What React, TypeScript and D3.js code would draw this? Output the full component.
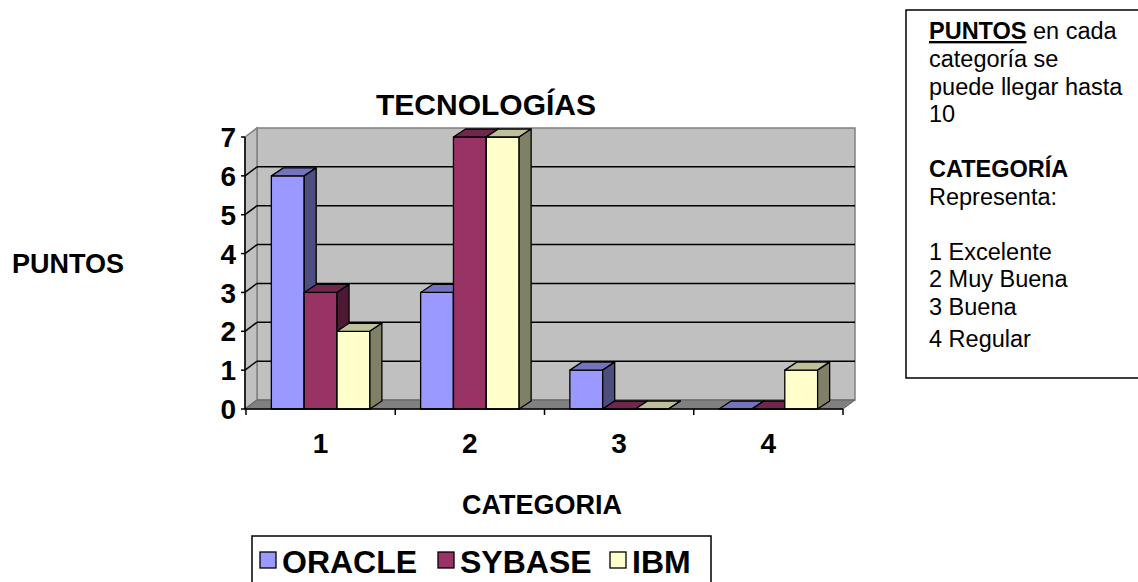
import React from 'react';
import * as d3 from 'd3';

const categories = ['1', '2', '3', '4'];
const seriesNames = ['ORACLE', 'SYBASE', 'IBM'];
const oracle = [6, 3, 1, 0];
const sybase = [3, 7, 0, 0];
const ibm = [2, 7, 0, 1];
const yTicks = [0, 1, 2, 3, 4, 5, 6, 7];
const noteLines = [
  'categoría se',
  'puede llegar hasta',
  '10',
];
const legendLines = ['1 Excelente', '2 Muy Buena', '3 Buena', '4 Regular'];

const colors = {
  ORACLE: { front: '#9999FF', top: '#7373BF', side: '#4D4D80' },
  SYBASE: { front: '#993366', top: '#73264D', side: '#4D1A33' },
  IBM: { front: '#FFFFCC', top: '#BFBF99', side: '#808066' },
};

const font = "Arial, 'Liberation Sans', sans-serif";

const App = () => {
  const values = [oracle, sybase, ibm];
  const x0 = 246;
  const x1 = 843;
  const dx = 12;
  const dy = -9;
  const bdx = 12;
  const bdy = -8;

  const x = d3.scaleBand().domain(categories).range([x0, x1]).paddingInner(0.34).paddingOuter(0.17);
  const xs = d3.scaleBand().domain(seriesNames).range([0, x.bandwidth()]);
  const y = d3.scaleLinear().domain([0, 7]).range([409, 137]);
  const step = x.step();

  const pts = (arr) => arr.map((p) => p.join(',')).join(' ');

  const bars = [];
  categories.forEach((c, ci) => {
    seriesNames.forEach((s, si) => {
      const v = values[si][ci];
      const l = x(c) + xs(s);
      const r = l + xs.bandwidth();
      const t = y(v);
      const b = y(0);
      const col = colors[s];
      bars.push(
        <g key={c + s} stroke="#000" strokeWidth={1.3} strokeLinejoin="round">
          <polygon points={pts([[l, b], [r, b], [r, t], [l, t]])} fill={col.front} />
          <polygon points={pts([[l, t], [r, t], [r + bdx, t + bdy], [l + bdx, t + bdy]])} fill={col.top} />
          <polygon points={pts([[r, b], [r + bdx, b + bdy], [r + bdx, t + bdy], [r, t]])} fill={col.side} />
        </g>
      );
    });
  });

  return (
    <svg width={1138} height={582} style={{ position: 'absolute', left: 0, top: 0 }} fontFamily={font}>
      <rect width={1138} height={582} fill="#fff" />
      {/* walls */}
      <polygon
        points={pts([[x0 - 1 + dx, y(0) + dy], [x0 - 1 + dx, y(7) + dy], [x1 + dx, y(7) + dy], [x1 + dx, y(0) + dy]])}
        fill="#C0C0C0"
        stroke="#808080"
        strokeWidth={1.5}
      />
      <polygon
        points={pts([[x0 - 1, y(0)], [x0 - 1, y(7)], [x0 - 1 + dx, y(7) + dy], [x0 - 1 + dx, y(0) + dy]])}
        fill="#C0C0C0"
        stroke="#808080"
        strokeWidth={1.5}
      />
      {yTicks.filter((v) => v > 0 && v < 7).map((v) => (
        <g key={'g' + v} stroke="#000" strokeWidth={1.5}>
          <line x1={x0 - 1} y1={y(v)} x2={x0 - 1 + dx} y2={y(v) + dy} />
          <line x1={x0 - 1 + dx} y1={y(v) + dy} x2={x1 + dx} y2={y(v) + dy} />
        </g>
      ))}
      {/* floor */}
      <polygon
        points={pts([[x0 - 1, y(0)], [x1, y(0)], [x1 + dx, y(0) + dy], [x0 - 1 + dx, y(0) + dy]])}
        fill="#808080"
        stroke="#606060"
        strokeWidth={1}
      />
      {bars}
      {/* axes */}
      <line x1={x0 - 1} y1={y(0)} x2={x0 - 1} y2={y(7)} stroke="#000" strokeWidth={1.5} />
      <line x1={x0 - 1} y1={y(0)} x2={x1} y2={y(0)} stroke="#000" strokeWidth={1.5} />
      {yTicks.map((v) => (
        <g key={'t' + v}>
          <line x1={x0 - 5} x2={x0 - 1} y1={y(v)} y2={y(v)} stroke="#000" strokeWidth={1.5} />
          <text x={236} y={y(v)} dy="0.36em" textAnchor="end" fontSize={28} fontWeight="bold">
            {v}
          </text>
        </g>
      ))}
      {d3.range(categories.length + 1).map((i) => (
        <line key={'xt' + i} x1={x0 + i * step} x2={x0 + i * step} y1={y(0)} y2={y(0) + 6} stroke="#000" strokeWidth={1.5} />
      ))}
      {categories.map((c) => (
        <text key={'c' + c} x={x(c) + x.bandwidth() / 2} y={453} textAnchor="middle" fontSize={28} fontWeight="bold">
          {c}
        </text>
      ))}
      <text x={486} y={115} textAnchor="middle" fontSize={30} fontWeight="bold">TECNOLOGÍAS</text>
      <text x={12} y={273} fontSize={27} fontWeight="bold">PUNTOS</text>
      <text x={542} y={514} textAnchor="middle" fontSize={27} fontWeight="bold">CATEGORIA</text>

      {/* legend */}
      <rect x={252} y={536} width={459} height={70} fill="#fff" stroke="#000" strokeWidth={1.5} />
      {seriesNames.map((s, i) => {
        const lx = [260, 438, 610][i];
        return (
          <g key={'l' + s}>
            <rect x={lx} y={552} width={16} height={16} fill={colors[s].front} stroke="#000" strokeWidth={1.3} />
            <text x={lx + 22} y={573} fontSize={32} fontWeight="bold">{s}</text>
          </g>
        );
      })}

      {/* note box */}
      <rect x={906} y={10} width={300} height={368} fill="#fff" stroke="#000" strokeWidth={1.5} />
      <g fontSize={23.5}>
        <text x={929} y={39}>
          <tspan fontWeight="bold" textDecoration="underline">PUNTOS</tspan>
          <tspan> en cada</tspan>
        </text>
        {noteLines.map((t, i) => (
          <text key={'n' + i} x={929} y={67 + i * 27.7}>{t}</text>
        ))}
        <text x={929} y={177} fontWeight="bold">CATEGORÍA</text>
        <text x={929} y={205}>Representa:</text>
        {legendLines.map((t, i) => (
          <text key={'r' + i} x={929} y={[260, 287, 315, 347][i]}>{t}</text>
        ))}
      </g>
    </svg>
  );
};

export default App;
